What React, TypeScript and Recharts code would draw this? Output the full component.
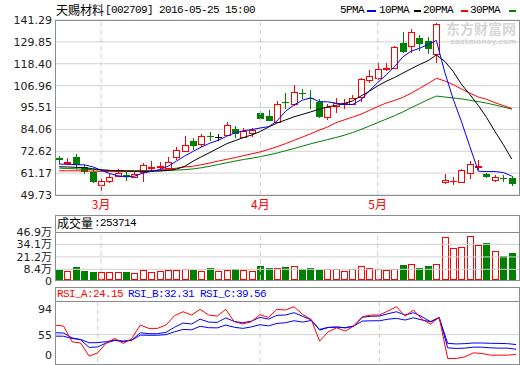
import {
  Bar,
  CartesianGrid,
  ComposedChart,
  Line,
  ReferenceLine,
  XAxis,
  YAxis,
} from "recharts";

// 天赐材料 daily K-line, 2016-02 .. 2016-05-25 (unadjusted, ex-rights on May 16)
const opens = [
  69.2, 66.4, 69.4, 64.3, 62.0, 55.0, 56.8, 59.7, 60.3, 59.0, 62.0, 63.8, 64.2, 63.8, 69.6, 73.0,
  78.1, 76.6, 80.4, 79.9, 81.3, 84.5, 80.1, 82.2, 92.4, 91.0, 88.0, 98.6, 97.5, 103.0, 100.6, 98.3,
  90.6, 96.2, 97.2, 97.5, 100.9, 110.1, 111.1, 115.6, 116.4, 129.2, 127.8, 131.7, 130.1, 123.4,
  56.7, 57.0, 56.7, 61.5, 64.4, 60.8, 57.6, 58.7, 58.8,
];
const highs = [
  70.3, 69.0, 71.2, 65.5, 62.9, 58.1, 60.6, 63.2, 62.0, 62.0, 66.7, 67.6, 67.2, 69.8, 75.1, 80.4,
  79.5, 81.7, 82.5, 81.7, 87.8, 86.0, 84.8, 84.8, 93.5, 94.1, 98.9, 103.2, 107.1, 105.4, 104.8, 100.1,
  97.1, 100.6, 99.8, 102.3, 111.1, 115.0, 119.0, 119.0, 127.8, 134.9, 136.5, 133.6, 132.2, 139.6,
  60.8, 59.0, 63.2, 67.3, 68.1, 61.0, 60.3, 60.3, 59.8,
];
const lows = [
  65.8, 65.5, 63.5, 60.6, 56.2, 52.0, 56.2, 59.4, 57.0, 58.8, 56.5, 62.5, 63.0, 63.0, 68.1, 72.0,
  73.5, 75.1, 77.8, 77.8, 80.4, 79.6, 79.6, 80.1, 89.0, 88.5, 87.5, 94.5, 96.2, 100.1, 94.5, 90.0,
  89.2, 92.7, 94.5, 96.8, 98.5, 108.5, 109.7, 114.6, 115.5, 123.8, 123.8, 125.3, 123.4, 119.0,
  55.3, 55.0, 56.2, 58.1, 62.9, 58.8, 56.4, 56.7, 54.4,
];
const closes = [
  68.0, 67.2, 65.5, 62.0, 56.4, 57.1, 59.4, 61.1, 58.9, 60.5, 65.3, 64.3, 65.0, 67.2, 73.4, 76.0,
  75.2, 80.4, 79.9, 79.9, 86.6, 81.8, 83.0, 83.9, 89.6, 88.7, 97.5, 98.0, 103.8, 102.5, 99.8, 90.4,
  95.7, 98.0, 97.8, 100.6, 110.6, 112.0, 115.9, 116.4, 127.4, 124.3, 134.8, 128.7, 126.0, 139.2,
  57.6, 57.3, 62.9, 66.0, 64.8, 59.0, 59.4, 58.3, 55.5,
];
// volume, 万股
const volumes = [
  7.9, 6.8, 10.3, 7.1, 5.8, 5.8, 5.8, 5.8, 5.8, 4.7, 7.6, 6.1, 6.5, 7.6, 7.9, 8.9, 7.9, 6.8, 10.0,
  7.1, 7.9, 8.9, 7.9, 6.8, 12.1, 10.0, 10.0, 11.0, 12.1, 8.9, 10.0, 7.9, 8.9, 8.9, 6.8, 8.9, 12.1,
  10.0, 8.9, 7.9, 8.9, 13.1, 14.2, 10.0, 12.1, 14.2, 41.4, 30.9, 31.9, 42.4, 33.0, 35.1, 27.4,
  21.8, 25.37,
];
const ma5 = [
  65.9, 65.8, 65.6, 65.5, 64.5, 62.7, 61.0, 59.8, 59.2, 59.6, 61.2, 62.1, 63.0, 64.8, 67.5, 70.2,
  72.6, 74.9, 76.9, 78.4, 80.5, 82.3, 83.3, 84.0, 84.8, 85.5, 88.5, 93.5, 96.8, 99.3, 100.6, 98.6,
  98.5, 97.8, 97.1, 97.1, 99.5, 104.2, 108.6, 112.5, 116.8, 122.0, 125.0, 126.5, 128.5, 130.6,
  114.0, 100.0, 88.0, 75.0, 62.2, 62.0, 62.0, 61.5, 59.6,
];
const ma10 = [
  64.5, 64.4, 64.2, 64.0, 63.5, 62.9, 62.6, 62.4, 62.3, 62.2, 62.2, 62.2, 62.3, 62.6, 63.3, 64.8,
  67.5, 69.8, 72.0, 74.3, 76.6, 78.2, 79.8, 81.2, 83.0, 85.3, 87.4, 89.0, 90.6, 91.9, 93.2, 94.6,
  95.8, 96.6, 97.6, 99.0, 101.5, 104.0, 106.8, 109.2, 111.2, 113.5, 115.8, 118.0, 120.0, 123.0,
  119.7, 114.4, 107.6, 102.3, 96.6, 90.2, 82.9, 76.0, 68.5,
];
const ma20 = [
  62.4, 62.4, 62.4, 62.3, 62.2, 62.1, 62.0, 62.0, 62.0, 62.0, 62.1, 62.3, 62.8, 63.2, 63.8, 64.4,
  64.8, 65.6, 66.5, 67.5, 68.4, 69.3, 70.3, 71.3, 72.3, 73.6, 75.0, 76.6, 78.3, 80.0, 81.8, 83.6,
  85.3, 87.5, 89.0, 90.5, 92.0, 94.0, 96.0, 97.8, 99.2, 100.8, 103.0, 105.5, 108.0, 110.8,
  109.4, 107.5, 105.2, 103.0, 101.0, 99.8, 98.0, 96.5, 95.0,
];
const ma30 = [
  63.8, 63.6, 63.4, 63.2, 63.0, 62.8, 62.6, 62.5, 62.4, 62.4, 62.4, 62.4, 62.4, 62.5, 62.8, 63.0,
  63.4, 64.0, 64.8, 65.7, 66.6, 67.5, 68.3, 69.0, 69.8, 70.7, 71.7, 72.9, 74.0, 75.3, 76.5, 77.6,
  78.7, 79.8, 81.0, 82.4, 84.0, 85.8, 87.6, 89.4, 91.2, 93.2, 95.4, 97.5, 99.6, 101.5,
  101.0, 100.5, 100.0, 99.3, 98.6, 97.8, 96.8, 95.8, 94.6,
];
const rsiA = [
  69.9, 68.3, 43.8, 42.0, 21.5, 26.7, 42.0, 49.1, 41.3, 49.1, 69.9, 64.7, 64.7, 69.9, 84.4, 90.6,
  85.5, 94.3, 85.5, 83.9, 94.3, 75.1, 71.5, 75.1, 86.0, 81.9, 94.3, 93.3, 98.4, 86.5, 78.7, 44.9,
  59.4, 65.6, 60.5, 68.3, 82.8, 85.5, 85.5, 91.7, 98.4, 83.9, 93.3, 78.7, 71.4, 81.9,
  17.9, 17.9, 20.4, 26.7, 25.7, 23.1, 23.1, 23.1, 24.15,
];
const rsiB = [
  57.9, 57.5, 50.0, 47.0, 35.1, 35.9, 42.0, 46.0, 44.0, 46.5, 57.9, 56.5, 56.5, 58.5, 66.5, 73.0,
  71.5, 79.0, 74.5, 74.0, 81.0, 75.5, 73.5, 76.0, 81.9, 79.2, 85.0, 85.5, 89.1, 83.5, 78.0, 62.1,
  66.0, 67.0, 65.5, 68.3, 82.0, 83.5, 83.9, 87.5, 90.6, 85.5, 89.1, 82.8, 75.1, 81.9,
  34.5, 33.5, 34.0, 35.5, 35.5, 34.5, 34.0, 34.0, 32.31,
];
const rsiC = [
  52.7, 52.5, 49.0, 47.5, 42.3, 42.6, 44.0, 46.5, 45.0, 46.5, 54.3, 54.0, 54.0, 55.0, 59.4, 63.1,
  62.5, 68.0, 65.8, 65.5, 69.9, 66.5, 64.7, 67.0, 70.5, 68.5, 72.5, 73.5, 76.6, 74.5, 77.0, 63.1,
  66.3, 66.5, 65.8, 68.3, 76.1, 76.5, 76.6, 79.0, 80.3, 77.7, 81.2, 77.7, 75.1, 81.2,
  41.5, 40.5, 41.0, 42.0, 42.0, 41.5, 41.3, 41.0, 39.56,
];
const monthStarts = [5, 24, 38];
const monthLabels = ["3月", "4月", "5月"];
const priceTicks = [49.73, 61.17, 72.62, 84.06, 95.51, 106.96, 118.4, 129.85, 141.29];
const volTicks = [0, 8.4, 21.2, 34.1, 46.9];
const volGrid = [8.4, 21.2, 34.1];
const rsiTicks = [0, 55, 94];

const RED = "#ff0000";
const GREEN = "#008000";
const BLUE = "#0000ff";
const GRID = "#d2d2d2";
const FRAME = "#8c8c8c";
const NUM_FONT = "'DejaVu Sans', 'Noto Sans CJK SC', sans-serif";
const CJK_FONT = "'Noto Sans CJK SC', sans-serif";
const MONO_FONT = "'Liberation Mono', 'DejaVu Sans Mono', monospace";

const rows = opens.map((o, i) => ({
  i,
  o,
  h: highs[i],
  l: lows[i],
  c: closes[i],
  range: [lows[i], highs[i]],
  vol: volumes[i],
  ma5: ma5[i],
  ma10: ma10[i],
  ma20: ma20[i],
  ma30: ma30[i],
  rsiA: rsiA[i],
  rsiB: rsiB[i],
  rsiC: rsiC[i],
}));

const xPad = { left: 0, right: 3 };
const axisTick = { fill: "#222", fontSize: 11, fontFamily: NUM_FONT };

function Candle(props: any) {
  const { x, y, width, height, payload } = props;
  if (!payload || height == null) return null;
  const { o, h, l, c } = payload;
  const top = Math.min(y, y + height);
  const span = Math.abs(height);
  const toY = (v: number) => Math.round(top + (h === l ? 0 : ((h - v) / (h - l)) * span));
  const cx = Math.floor(x + width / 2) + 0.5;
  const yh = toY(h);
  const yl = toY(l);
  const yo = toY(o);
  const yc = toY(c);

  if (c === o) {
    return (
      <g>
        <line x1={cx} x2={cx} y1={yh} y2={yl} stroke="#000" />
        <line x1={cx - 3.5} x2={cx + 3.5} y1={yo + 0.5} y2={yo + 0.5} stroke="#000" />
      </g>
    );
  }
  if (c > o) {
    const bt = yc;
    const bb = yo;
    return (
      <g>
        <line x1={cx} x2={cx} y1={yh} y2={bt} stroke={RED} />
        <line x1={cx} x2={cx} y1={bb} y2={yl} stroke={RED} />
        {bb - bt >= 1 ? (
          <rect x={cx - 3} y={bt + 0.5} width={6} height={bb - bt} fill="#fff" stroke={RED} />
        ) : (
          <line x1={cx - 3.5} x2={cx + 3.5} y1={bt + 0.5} y2={bt + 0.5} stroke={RED} />
        )}
      </g>
    );
  }
  return (
    <g>
      <line x1={cx} x2={cx} y1={yh} y2={yl} stroke={GREEN} />
      <rect x={cx - 3.5} y={yo} width={7} height={Math.max(yc - yo, 1)} fill={GREEN} />
    </g>
  );
}

// bars stand on the panel floor (which sits a little below the scale's zero)
function VolBar(props: any) {
  const { x, y, width, payload, background } = props;
  if (!payload || y == null) return null;
  const cx = Math.floor(x + width / 2) + 0.5;
  const top = Math.round(y);
  const bot = background ? Math.round(background.y + background.height) : Math.round(y + props.height);
  if (payload.c >= payload.o) {
    return (
      <rect x={cx - 3} y={top + 0.5} width={6} height={Math.max(bot - top - 1, 0)} fill="#fff" stroke={RED} />
    );
  }
  return <rect x={cx - 3.5} y={top} width={7} height={bot - top} fill={GREEN} />;
}

function makeTick(floorY: number, fmt: (v: number) => string) {
  return function Tick(props: any) {
    const { x, y, payload } = props;
    const v = payload.value as number;
    return (
      <text
        x={x}
        y={v === 0 ? floorY : Math.min(y, floorY)}
        dy="0.355em"
        textAnchor="end"
        fill="#222"
        fontSize={11}
        fontFamily={NUM_FONT}
      >
        {fmt(v)}
      </text>
    );
  };
}
const VolTick = makeTick(66, (v) => (v === 0 ? "0" : `${v}万`));
const RsiTick = makeTick(68, (v) => String(v));

function Txt({
  x,
  y,
  color = "#000",
  font = MONO_FONT,
  size = 11,
  spacing = -0.6,
  weight = 400,
  children,
}: {
  x: number;
  y: number;
  color?: string;
  font?: string;
  size?: number;
  spacing?: number;
  weight?: number;
  children: React.ReactNode;
}) {
  const lh = Math.max(size, 12);
  return (
    <div
      style={{
        position: "absolute",
        left: x,
        top: y - lh / 2,
        height: lh,
        lineHeight: `${lh}px`,
        fontSize: size,
        fontFamily: font,
        fontWeight: weight,
        letterSpacing: spacing,
        color,
        whiteSpace: "nowrap",
      }}
    >
      {children}
    </div>
  );
}

function Box({ top, bottom }: { top: number; bottom: number }) {
  return (
    <div
      style={{
        position: "absolute",
        left: 55,
        top,
        width: 465,
        height: bottom - top + 1,
        boxSizing: "border-box",
        border: `1px solid ${FRAME}`,
        pointerEvents: "none",
      }}
    />
  );
}

function HLine({ y }: { y: number }) {
  return (
    <div
      style={{ position: "absolute", left: 55, top: y, width: 465, height: 1, background: FRAME }}
    />
  );
}

function Dash({ x, w, color }: { x: number; w: number; color: string }) {
  return <div style={{ position: "absolute", left: x, top: 10, width: w, height: 2, background: color }} />;
}

export default function App() {
  return (
    <div
      style={{
        position: "absolute",
        left: 0,
        top: 0,
        width: 520,
        height: 365,
        overflow: "hidden",
        background: "#fff",
      }}
    >
      {/* watermark */}
      <Txt x={446} y={28} color="#d6d6d6" font={CJK_FONT} size={14} spacing={0} weight={700}>
        东方财富网
      </Txt>
      <div
        style={{
          position: "absolute",
          left: 450,
          top: 37,
          height: 9,
          lineHeight: "9px",
          fontSize: 7.5,
          fontWeight: 700,
          fontFamily: NUM_FONT,
          color: "#d6d6d6",
          whiteSpace: "nowrap",
        }}
      >
        eastmoney.com
      </div>

      {/* title + legend */}
      <Txt x={56} y={10} font={CJK_FONT} size={12} spacing={0}>
        天赐材料
      </Txt>
      <Txt x={105} y={10}>[002709] 2016-05-25 15:00</Txt>
      <Txt x={340} y={10}>5PMA</Txt>
      <Dash x={367} w={9} color={BLUE} />
      <Txt x={379} y={10}>10PMA</Txt>
      <Dash x={414} w={7} color="#000" />
      <Txt x={423} y={10}>20PMA</Txt>
      <Dash x={461} w={7} color={RED} />
      <Txt x={470} y={10}>30PMA</Txt>
      <Dash x={509} w={7} color={GREEN} />

      {/* price panel */}
      <div style={{ position: "absolute", left: 0, top: 0 }}>
        <ComposedChart width={520} height={215} data={rows} margin={{ top: 20, right: 1, bottom: 0, left: 0 }}>
          <CartesianGrid vertical={false} stroke={GRID} />
          <XAxis
            dataKey="i"
            ticks={monthStarts}
            interval={0}
            tickFormatter={(v: number) => monthLabels[monthStarts.indexOf(v)] ?? ""}
            height={20}
            axisLine={false}
            tickLine={false}
            tickSize={0}
            tickMargin={5}
            padding={xPad}
            tick={{ fill: RED, fontSize: 12, fontFamily: CJK_FONT }}
          />
          <YAxis
            domain={[49.73, 141.29]}
            ticks={priceTicks}
            interval={0}
            width={55}
            axisLine={false}
            tickLine={false}
            tickSize={0}
            tickMargin={3}
            tick={axisTick}
            tickFormatter={(v: number) => v.toFixed(2)}
          />
          {monthStarts.map((m) => (
            <ReferenceLine key={m} x={m} stroke={GRID} strokeDasharray="5 3" />
          ))}
          <Bar dataKey="range" barSize={7} shape={Candle} isAnimationActive={false} />
          <Line dataKey="ma30" stroke={GREEN} strokeWidth={1} dot={false} isAnimationActive={false} />
          <Line dataKey="ma20" stroke={RED} strokeWidth={1} dot={false} isAnimationActive={false} />
          <Line dataKey="ma10" stroke="#000" strokeWidth={1} dot={false} isAnimationActive={false} />
          <Line dataKey="ma5" stroke={BLUE} strokeWidth={1} dot={false} isAnimationActive={false} />
        </ComposedChart>
      </div>
      <Box top={20} bottom={195} />

      {/* volume panel */}
      <div style={{ position: "absolute", left: 0, top: 215 }}>
        <ComposedChart width={520} height={74} data={rows} margin={{ top: 17, right: 1, bottom: 9, left: 0 }}>
          <XAxis dataKey="i" hide padding={xPad} />
          <YAxis
            domain={[-2.6, 46.9]}
            ticks={volTicks}
            interval={0}
            width={55}
            axisLine={false}
            tickLine={false}
            tickSize={0}
            tickMargin={3}
            tick={VolTick}
          />
          {volGrid.map((v) => (
            <ReferenceLine key={v} y={v} stroke={GRID} />
          ))}
          {monthStarts.map((m) => (
            <ReferenceLine key={m} x={m} stroke={GRID} strokeDasharray="5 3" />
          ))}
          <Bar dataKey="vol" barSize={7} shape={VolBar} isAnimationActive={false} />
        </ComposedChart>
      </div>
      <Box top={215} bottom={280} />
      <HLine y={232} />
      <Txt x={57} y={223} font={CJK_FONT} size={12} spacing={0}>
        成交量
      </Txt>
      <Txt x={94} y={223}>:253714</Txt>

      {/* RSI panel */}
      <div style={{ position: "absolute", left: 0, top: 287 }}>
        <ComposedChart width={520} height={83} data={rows} margin={{ top: 14, right: 1, bottom: 0, left: 0 }}>
          <XAxis dataKey="i" hide padding={xPad} />
          <YAxis
            domain={[0, 107.3]}
            ticks={rsiTicks}
            interval={0}
            width={55}
            axisLine={false}
            tickLine={false}
            tickSize={0}
            tickMargin={3}
            tick={RsiTick}
          />
          <ReferenceLine y={55} stroke={GRID} />
          {monthStarts.map((m) => (
            <ReferenceLine key={m} x={m} stroke={GRID} strokeDasharray="5 3" />
          ))}
          <Line dataKey="rsiC" stroke={BLUE} strokeWidth={1} dot={false} isAnimationActive={false} />
          <Line dataKey="rsiB" stroke={BLUE} strokeWidth={1} dot={false} isAnimationActive={false} />
          <Line dataKey="rsiA" stroke={RED} strokeWidth={1} dot={false} isAnimationActive={false} />
        </ComposedChart>
      </div>
      <Box top={287} bottom={364} />
      <HLine y={301} />
      <Txt x={57} y={294} color={RED}>RSI_A:24.15</Txt>
      <Txt x={128} y={294} color={BLUE}>RSI_B:32.31</Txt>
      <Txt x={200} y={294} color={BLUE}>RSI_C:39.56</Txt>
    </div>
  );
}
